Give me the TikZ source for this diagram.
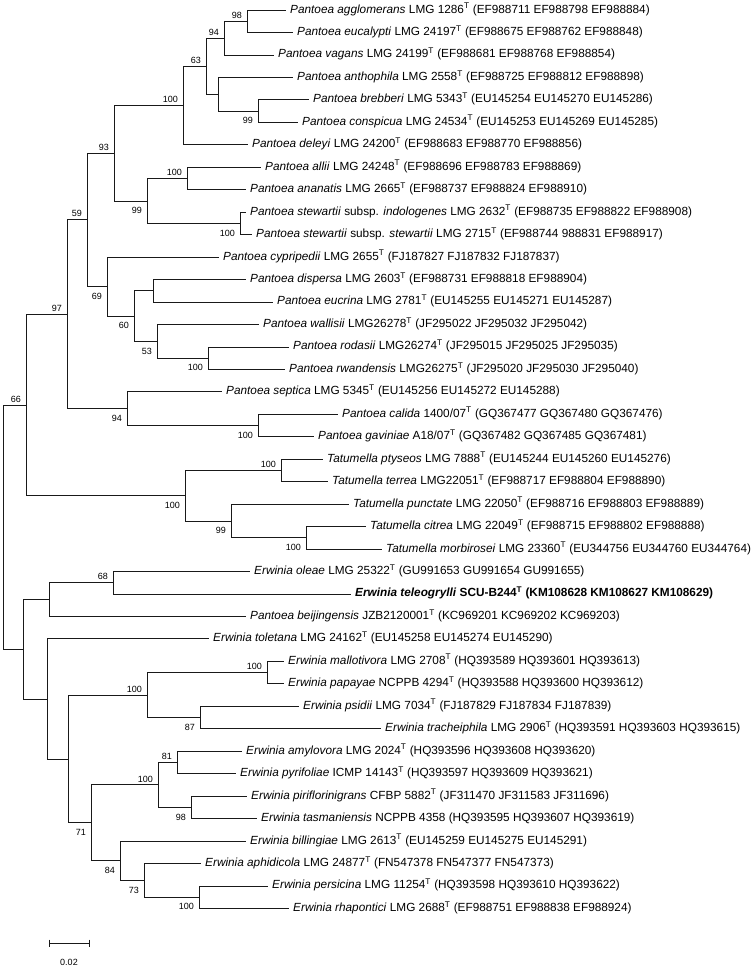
\documentclass[tikz,border=0pt]{standalone}
\usepackage{fontspec}
\setmainfont{Liberation Sans}
\begin{document}
\begin{tikzpicture}[x=1pt,y=-22.46pt,
  br/.style={line width=0.8pt,black!90},
  tip/.style={anchor=west,inner xsep=4pt,inner ysep=0pt,text height=8.5pt,text depth=2.5pt,font=\fontsize{11.8}{13}\selectfont},
  tipb/.style={tip,font=\fontsize{11.8}{13}\selectfont\bfseries},
  bup/.style={anchor=south east,inner sep=0pt,xshift=-5pt,yshift=2.6pt,font=\fontsize{9}{10}\selectfont},
  bdn/.style={anchor=north east,inner sep=0pt,xshift=-5pt,yshift=-6.3pt,font=\fontsize{9}{10}\selectfont}]
\useasboundingbox (0,0.5548) rectangle (755,43.6087);

\node[tip] (agg) at (286,1) {\textit{Pantoea agglomerans} LMG 1286\textsuperscript{T} (EF988711 EF988798 EF988884)};
\node[tip] (euc) at (293,2) {\textit{Pantoea eucalypti} LMG 24197\textsuperscript{T} (EF988675 EF988762 EF988848)};
\node[tip] (vag) at (274,3) {\textit{Pantoea vagans} LMG 24199\textsuperscript{T} (EF988681 EF988768 EF988854)};
\node[tip] (ant) at (293,4) {\textit{Pantoea anthophila} LMG 2558\textsuperscript{T} (EF988725 EF988812 EF988898)};
\node[tip] (bre) at (309,5) {\textit{Pantoea brebberi} LMG 5343\textsuperscript{T} (EU145254 EU145270 EU145286)};
\node[tip] (con) at (298,6) {\textit{Pantoea conspicua} LMG 24534\textsuperscript{T} (EU145253 EU145269 EU145285)};
\node[tip] (del) at (248,7) {\textit{Pantoea deleyi} LMG 24200\textsuperscript{T} (EF988683 EF988770 EF988856)};
\node[tip] (all) at (261,8) {\textit{Pantoea allii} LMG 24248\textsuperscript{T} (EF988696 EF988783 EF988869)};
\node[tip] (ana) at (246,9) {\textit{Pantoea ananatis} LMG 2665\textsuperscript{T} (EF988737 EF988824 EF988910)};
\node[tip] (sin) at (246,10) {\textit{Pantoea stewartii} subsp. \textit{indologenes} LMG 2632\textsuperscript{T} (EF988735 EF988822 EF988908)};
\node[tip] (sst) at (252,11) {\textit{Pantoea stewartii} subsp. \textit{stewartii} LMG 2715\textsuperscript{T} (EF988744 988831 EF988917)};
\node[tip] (cyp) at (219,12) {\textit{Pantoea cypripedii} LMG 2655\textsuperscript{T} (FJ187827 FJ187832 FJ187837)};
\node[tip] (dis) at (246,13) {\textit{Pantoea dispersa} LMG 2603\textsuperscript{T} (EF988731 EF988818 EF988904)};
\node[tip] (eur) at (273,14) {\textit{Pantoea eucrina} LMG 2781\textsuperscript{T} (EU145255 EU145271 EU145287)};
\node[tip] (wal) at (259,15) {\textit{Pantoea wallisii} LMG26278\textsuperscript{T} (JF295022 JF295032 JF295042)};
\node[tip] (rod) at (289,16) {\textit{Pantoea rodasii} LMG26274\textsuperscript{T} (JF295015 JF295025 JF295035)};
\node[tip] (rwa) at (285,17) {\textit{Pantoea rwandensis} LMG26275\textsuperscript{T} (JF295020 JF295030 JF295040)};
\node[tip] (sep) at (222,18) {\textit{Pantoea septica} LMG 5345\textsuperscript{T} (EU145256 EU145272 EU145288)};
\node[tip] (cal) at (338,19) {\textit{Pantoea calida} 1400/07\textsuperscript{T} (GQ367477 GQ367480 GQ367476)};
\node[tip] (gav) at (314,20) {\textit{Pantoea gaviniae} A18/07\textsuperscript{T} (GQ367482 GQ367485 GQ367481)};
\node[tip] (pty) at (323,21) {\textit{Tatumella ptyseos} LMG 7888\textsuperscript{T} (EU145244 EU145260 EU145276)};
\node[tip] (ter) at (328,22) {\textit{Tatumella terrea} LMG22051\textsuperscript{T} (EF988717 EF988804 EF988890)};
\node[tip] (pun) at (349,23) {\textit{Tatumella punctate} LMG 22050\textsuperscript{T} (EF988716 EF988803 EF988889)};
\node[tip] (cit) at (366,24) {\textit{Tatumella citrea} LMG 22049\textsuperscript{T} (EF988715 EF988802 EF988888)};
\node[tip] (mor) at (382,25) {\textit{Tatumella morbirosei} LMG 23360\textsuperscript{T} (EU344756 EU344760 EU344764)};
\node[tip] (ole) at (250,26) {\textit{Erwinia oleae} LMG 25322\textsuperscript{T} (GU991653 GU991654 GU991655)};
\node[tipb] (tel) at (351,27) {\textit{Erwinia teleogrylli} SCU-B244\textsuperscript{T} (KM108628 KM108627 KM108629)};
\node[tip] (bei) at (246,28) {\textit{Pantoea beijingensis} JZB2120001\textsuperscript{T} (KC969201 KC969202 KC969203)};
\node[tip] (tol) at (209,29) {\textit{Erwinia toletana} LMG 24162\textsuperscript{T} (EU145258 EU145274 EU145290)};
\node[tip] (mal) at (284,30) {\textit{Erwinia mallotivora} LMG 2708\textsuperscript{T} (HQ393589 HQ393601 HQ393613)};
\node[tip] (pap) at (284,31) {\textit{Erwinia papayae} NCPPB 4294\textsuperscript{T} (HQ393588 HQ393600 HQ393612)};
\node[tip] (psi) at (299,32) {\textit{Erwinia psidii} LMG 7034\textsuperscript{T} (FJ187829 FJ187834 FJ187839)};
\node[tip] (tra) at (381,33) {\textit{Erwinia tracheiphila} LMG 2906\textsuperscript{T} (HQ393591 HQ393603 HQ393615)};
\node[tip] (amy) at (242,34) {\textit{Erwinia amylovora} LMG 2024\textsuperscript{T} (HQ393596 HQ393608 HQ393620)};
\node[tip] (pyr) at (236,35) {\textit{Erwinia pyrifoliae} ICMP 14143\textsuperscript{T} (HQ393597 HQ393609 HQ393621)};
\node[tip] (pir) at (247,36) {\textit{Erwinia piriflorinigrans} CFBP 5882\textsuperscript{T} (JF311470 JF311583 JF311696)};
\node[tip] (tas) at (257,37) {\textit{Erwinia tasmaniensis} NCPPB 4358 (HQ393595 HQ393607 HQ393619)};
\node[tip] (bil) at (246,38) {\textit{Erwinia billingiae} LMG 2613\textsuperscript{T} (EU145259 EU145275 EU145291)};
\node[tip] (aph) at (201,39) {\textit{Erwinia aphidicola} LMG 24877\textsuperscript{T} (FN547378 FN547377 FN547373)};
\node[tip] (per) at (268,40) {\textit{Erwinia persicina} LMG 11254\textsuperscript{T} (HQ393598 HQ393610 HQ393622)};
\node[tip] (rha) at (289,41) {\textit{Erwinia rhapontici} LMG 2688\textsuperscript{T} (EF988751 EF988838 EF988924)};

\coordinate (p98) at (247,1.5);
\coordinate (p94) at (224,2.25);
\coordinate (p99a) at (258,5.5);
\coordinate (pant) at (218,4.75);
\coordinate (p63) at (206,3.5);
\coordinate (p100a) at (183,5.25);
\coordinate (p100b) at (187,8.5);
\coordinate (p100c) at (240,10.5);
\coordinate (p99b) at (147,9.5);
\coordinate (p93) at (114,7.375);
\coordinate (pdis) at (153,13.5);
\coordinate (p100d) at (208,16.5);
\coordinate (p53) at (157,15.75);
\coordinate (p60) at (134,14.625);
\coordinate (p69) at (107,13.3125);
\coordinate (p59) at (87,10.34375);
\coordinate (p100e) at (258,19.5);
\coordinate (p94b) at (127,18.75);
\coordinate (p97) at (67,14.546875);
\coordinate (t100a) at (281,21.5);
\coordinate (t100b) at (306,24.5);
\coordinate (t99) at (231,23.75);
\coordinate (t100) at (185,22.625);
\coordinate (r66) at (26,18.5859);
\coordinate (e68) at (113,26.5);
\coordinate (ebei) at (49,27.25);
\coordinate (e100a) at (267,30.5);
\coordinate (e87) at (200,32.5);
\coordinate (e100b) at (147,31.5);
\coordinate (e81) at (177,34.5);
\coordinate (e98) at (191,36.5);
\coordinate (e100c) at (158,35.5);
\coordinate (e100d) at (199,40.5);
\coordinate (e73) at (144,39.75);
\coordinate (e84) at (120,38.875);
\coordinate (e71) at (91,37.1875);
\coordinate (eamy) at (68,34.3438);
\coordinate (etol) at (47,31.6719);
\coordinate (erw) at (23,29.4609);
\coordinate (root) at (3,24.0234);

\draw[br] (p98) |- (agg.west);
\draw[br] (p98) |- (euc.west);
\draw[br] (p94) |- (p98);
\draw[br] (p94) |- (vag.west);
\draw[br] (p99a) |- (bre.west);
\draw[br] (p99a) |- (con.west);
\draw[br] (pant) |- (ant.west);
\draw[br] (pant) |- (p99a);
\draw[br] (p63) |- (p94);
\draw[br] (p63) |- (pant);
\draw[br] (p100a) |- (p63);
\draw[br] (p100a) |- (del.west);
\draw[br] (p100b) |- (all.west);
\draw[br] (p100b) |- (ana.west);
\draw[br] (p100c) |- (sin.west);
\draw[br] (p100c) |- (sst.west);
\draw[br] (p99b) |- (p100b);
\draw[br] (p99b) |- (p100c);
\draw[br] (p93) |- (p100a);
\draw[br] (p93) |- (p99b);
\draw[br] (pdis) |- (dis.west);
\draw[br] (pdis) |- (eur.west);
\draw[br] (p100d) |- (rod.west);
\draw[br] (p100d) |- (rwa.west);
\draw[br] (p53) |- (wal.west);
\draw[br] (p53) |- (p100d);
\draw[br] (p60) |- (pdis);
\draw[br] (p60) |- (p53);
\draw[br] (p69) |- (cyp.west);
\draw[br] (p69) |- (p60);
\draw[br] (p59) |- (p93);
\draw[br] (p59) |- (p69);
\draw[br] (p100e) |- (cal.west);
\draw[br] (p100e) |- (gav.west);
\draw[br] (p94b) |- (sep.west);
\draw[br] (p94b) |- (p100e);
\draw[br] (p97) |- (p59);
\draw[br] (p97) |- (p94b);
\draw[br] (t100a) |- (pty.west);
\draw[br] (t100a) |- (ter.west);
\draw[br] (t100b) |- (cit.west);
\draw[br] (t100b) |- (mor.west);
\draw[br] (t99) |- (pun.west);
\draw[br] (t99) |- (t100b);
\draw[br] (t100) |- (t100a);
\draw[br] (t100) |- (t99);
\draw[br] (r66) |- (p97);
\draw[br] (r66) |- (t100);
\draw[br] (e68) |- (ole.west);
\draw[br] (e68) |- (tel.west);
\draw[br] (ebei) |- (e68);
\draw[br] (ebei) |- (bei.west);
\draw[br] (e100a) |- (mal.west);
\draw[br] (e100a) |- (pap.west);
\draw[br] (e87) |- (psi.west);
\draw[br] (e87) |- (tra.west);
\draw[br] (e100b) |- (e100a);
\draw[br] (e100b) |- (e87);
\draw[br] (e81) |- (amy.west);
\draw[br] (e81) |- (pyr.west);
\draw[br] (e98) |- (pir.west);
\draw[br] (e98) |- (tas.west);
\draw[br] (e100c) |- (e81);
\draw[br] (e100c) |- (e98);
\draw[br] (e100d) |- (per.west);
\draw[br] (e100d) |- (rha.west);
\draw[br] (e73) |- (aph.west);
\draw[br] (e73) |- (e100d);
\draw[br] (e84) |- (bil.west);
\draw[br] (e84) |- (e73);
\draw[br] (e71) |- (e100c);
\draw[br] (e71) |- (e84);
\draw[br] (eamy) |- (e100b);
\draw[br] (eamy) |- (e71);
\draw[br] (etol) |- (tol.west);
\draw[br] (etol) |- (eamy);
\draw[br] (erw) |- (ebei);
\draw[br] (erw) |- (etol);
\draw[br] (root) |- (r66);
\draw[br] (root) |- (erw);

\node[bup] (b1) at (p98) {98};
\node[bup] (b2) at (p94) {94};
\node[bup] (b3) at (p63) {63};
\node[bdn] (b4) at (p99a) {99};
\node[bup] (b5) at (p100a) {100};
\node[bup] (b6) at (p93) {93};
\node[bup] (b7) at (p100b) {100};
\node[bdn] (b8) at (p99b) {99};
\node[bdn] (b9) at (p100c) {100};
\node[bup] (b10) at (p59) {59};
\node[bdn] (b11) at (p69) {69};
\node[bdn] (b12) at (p60) {60};
\node[bdn] (b13) at (p53) {53};
\node[bdn] (b14) at (p100d) {100};
\node[bup] (b15) at (p97) {97};
\node[bdn] (b16) at (p94b) {94};
\node[bdn] (b17) at (p100e) {100};
\node[bup] (b18) at (r66) {66};
\node[bup] (b19) at (t100a) {100};
\node[bdn] (b20) at (t100) {100};
\node[bdn] (b21) at (t99) {99};
\node[bdn] (b22) at (t100b) {100};
\node[bup] (b23) at (e68) {68};
\node[bup] (b24) at (e100a) {100};
\node[bup] (b25) at (e100b) {100};
\node[bdn] (b26) at (e87) {87};
\node[bup] (b27) at (e81) {81};
\node[bup] (b28) at (e100c) {100};
\node[bdn] (b29) at (e98) {98};
\node[bdn] (b30) at (e71) {71};
\node[bdn] (b31) at (e84) {84};
\node[bdn] (b32) at (e73) {73};
\node[bdn] (b33) at (e100d) {100};

\coordinate (s0) at (49,42.54);
\coordinate (s1) at (89,42.54);
\draw[br] (s0) -- (s1);
\draw[br] ([yshift=3.5pt]s0) -- ([yshift=-3.5pt]s0);
\draw[br] ([yshift=3.5pt]s1) -- ([yshift=-3.5pt]s1);
\node[inner sep=0pt,font=\fontsize{9}{10}\selectfont] (sl) at (69,43.39) {0.02};
\end{tikzpicture}
\end{document}
